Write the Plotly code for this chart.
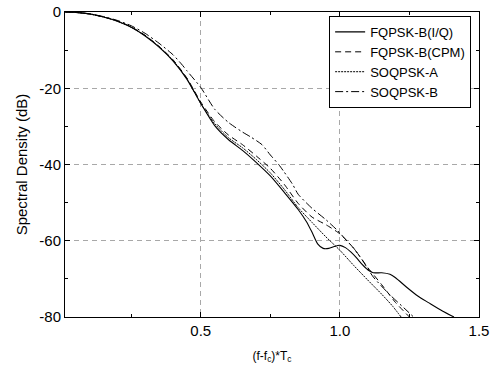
import plotly.graph_objects as go

# ---- data ----
fqpsk_iq_x = [0.013, 0.05, 0.10, 0.15, 0.20, 0.25, 0.30, 0.35, 0.40, 0.45, 0.50, 0.55, 0.60, 0.65,
              0.70, 0.75, 0.80, 0.85, 0.88, 0.90, 0.92, 0.94, 0.96, 0.98, 1.00, 1.02, 1.04, 1.06,
              1.08, 1.10, 1.12, 1.15, 1.18, 1.20, 1.24, 1.28, 1.32, 1.37, 1.41]
fqpsk_iq_y = [0.0, -0.1, -0.5, -1.3, -2.4, -4.0, -6.3, -9.2, -12.8, -17.6, -24.0, -29.8, -33.5, -36.3,
              -39.5, -43.0, -47.3, -51.8, -55.0, -57.8, -60.8, -62.0, -62.0, -61.5, -61.2, -61.8, -63.0, -64.5,
              -66.2, -67.6, -68.4, -68.4, -68.8, -69.7, -72.2, -74.5, -76.3, -78.5, -80.0]

fqpsk_cpm_x = [0.013, 0.05, 0.10, 0.15, 0.20, 0.25, 0.30, 0.35, 0.40, 0.45, 0.50, 0.55, 0.60, 0.65,
               0.70, 0.75, 0.80, 0.85, 0.90, 0.95, 1.00, 1.05, 1.10, 1.15, 1.20, 1.25]
fqpsk_cpm_y = [0.0, -0.1, -0.5, -1.3, -2.3, -3.9, -6.1, -9.0, -12.5, -17.3, -23.6, -28.8, -32.3, -34.8,
               -37.8, -41.0, -45.2, -50.2, -53.8, -55.8, -58.2, -62.0, -67.0, -71.5, -76.2, -80.0]

soqpsk_a_x = [0.013, 0.05, 0.10, 0.15, 0.20, 0.25, 0.30, 0.35, 0.40, 0.45, 0.50, 0.55, 0.60, 0.65,
              0.70, 0.75, 0.80, 0.85, 0.90, 0.95, 1.00, 1.05, 1.10, 1.15, 1.19, 1.22]
soqpsk_a_y = [0.0, -0.1, -0.5, -1.3, -2.4, -4.0, -6.2, -9.1, -12.7, -17.5, -24.0, -29.3, -33.0, -35.6,
              -38.7, -42.2, -46.5, -51.3, -55.2, -59.0, -62.5, -66.5, -70.3, -74.0, -77.2, -80.0]

soqpsk_b_x = [0.013, 0.05, 0.10, 0.15, 0.20, 0.25, 0.30, 0.35, 0.40, 0.43, 0.45, 0.50, 0.55, 0.60,
              0.65, 0.68, 0.72, 0.75, 0.78, 0.80, 0.83, 0.85, 0.90, 0.95, 0.99, 1.02, 1.05, 1.08,
              1.12, 1.18, 1.23, 1.265]
soqpsk_b_y = [0.0, -0.1, -0.5, -1.2, -2.2, -3.6, -5.6, -8.2, -11.2, -13.6, -15.4, -19.8, -25.5, -29.0,
              -31.5, -32.8, -34.8, -37.5, -40.0, -42.0, -45.2, -47.8, -51.5, -54.5, -57.2, -59.6, -62.0, -65.0,
              -69.5, -74.2, -77.6, -80.0]

series_names = ["FQPSK-B(I/Q)", "FQPSK-B(CPM)", "SOQPSK-A", "SOQPSK-B"]

x_tick_vals = [0.5, 1.0, 1.5]
x_tick_text = ["0.5", "1.0", "1.5"]
y_tick_vals = [0, -20, -40, -60, -80]
y_tick_text = ["0", "-20", "-40", "-60", "-80"]

FONT = "Liberation Sans, Arial, sans-serif"

fig = go.Figure()
styles = [
    dict(dash="solid", width=1.1),
    dict(dash="6px,4px", width=1),
    dict(dash="2px,1px", width=1),
    dict(dash="8px,3px,2px,3px", width=1),
]
data = [(fqpsk_iq_x, fqpsk_iq_y), (fqpsk_cpm_x, fqpsk_cpm_y),
        (soqpsk_a_x, soqpsk_a_y), (soqpsk_b_x, soqpsk_b_y)]
for (xs, ys), name, st in zip(data, series_names, styles):
    fig.add_trace(go.Scatter(x=xs, y=ys, mode="lines", name=name,
                             line=dict(color="black", width=st["width"], dash=st["dash"],
                                       shape="spline", smoothing=0.6)))

axis_common = dict(
    showline=True, linecolor="black", linewidth=1, mirror="allticks",
    ticks="inside", ticklen=5, tickcolor="black", tickwidth=1,
    showgrid=True, gridcolor="#a8a8a8", griddash="5px,4px", gridwidth=1,
    zeroline=False, automargin=False, ticklabeloverflow="allow",
    tickfont=dict(family=FONT, size=15, color="black"),
)

fig.update_layout(
    width=492, height=369,
    margin=dict(l=65, r=13, t=12, b=52),
    paper_bgcolor="white", plot_bgcolor="white",
    font=dict(family=FONT, size=15, color="black"),
    xaxis=dict(range=[0.012, 1.5], tickvals=x_tick_vals, ticktext=x_tick_text,
               minor=dict(tickvals=[0.25, 0.75, 1.25], ticks="inside", ticklen=3,
                          tickcolor="black", showgrid=False),
               title=dict(text="(f-f<sub>c</sub>)*T<sub>c</sub>", font=dict(family=FONT, size=12),
                          standoff=13),
               **axis_common),
    yaxis=dict(range=[-80, 0], tickvals=y_tick_vals, ticktext=y_tick_text,
               minor=dict(tickvals=[-10, -30, -50, -70], ticks="inside", ticklen=3,
                          tickcolor="black", showgrid=False),
               title=dict(text="Spectral Density (dB)", font=dict(family=FONT, size=15),
                          standoff=8),
               **axis_common),
    legend=dict(x=0.981, y=0.987, xanchor="right", yanchor="top",
                bgcolor="white", bordercolor="black", borderwidth=1,
                font=dict(family=FONT, size=13, color="black"),
                tracegroupgap=0, itemwidth=30),
    showlegend=True,
)

# remove the browser's default 8px body margin so the figure fills the window exactly
fig.write_html("out.html",
               config={"displayModeBar": False},
               post_script="document.body.style.margin='0';document.body.style.overflow='hidden';")
